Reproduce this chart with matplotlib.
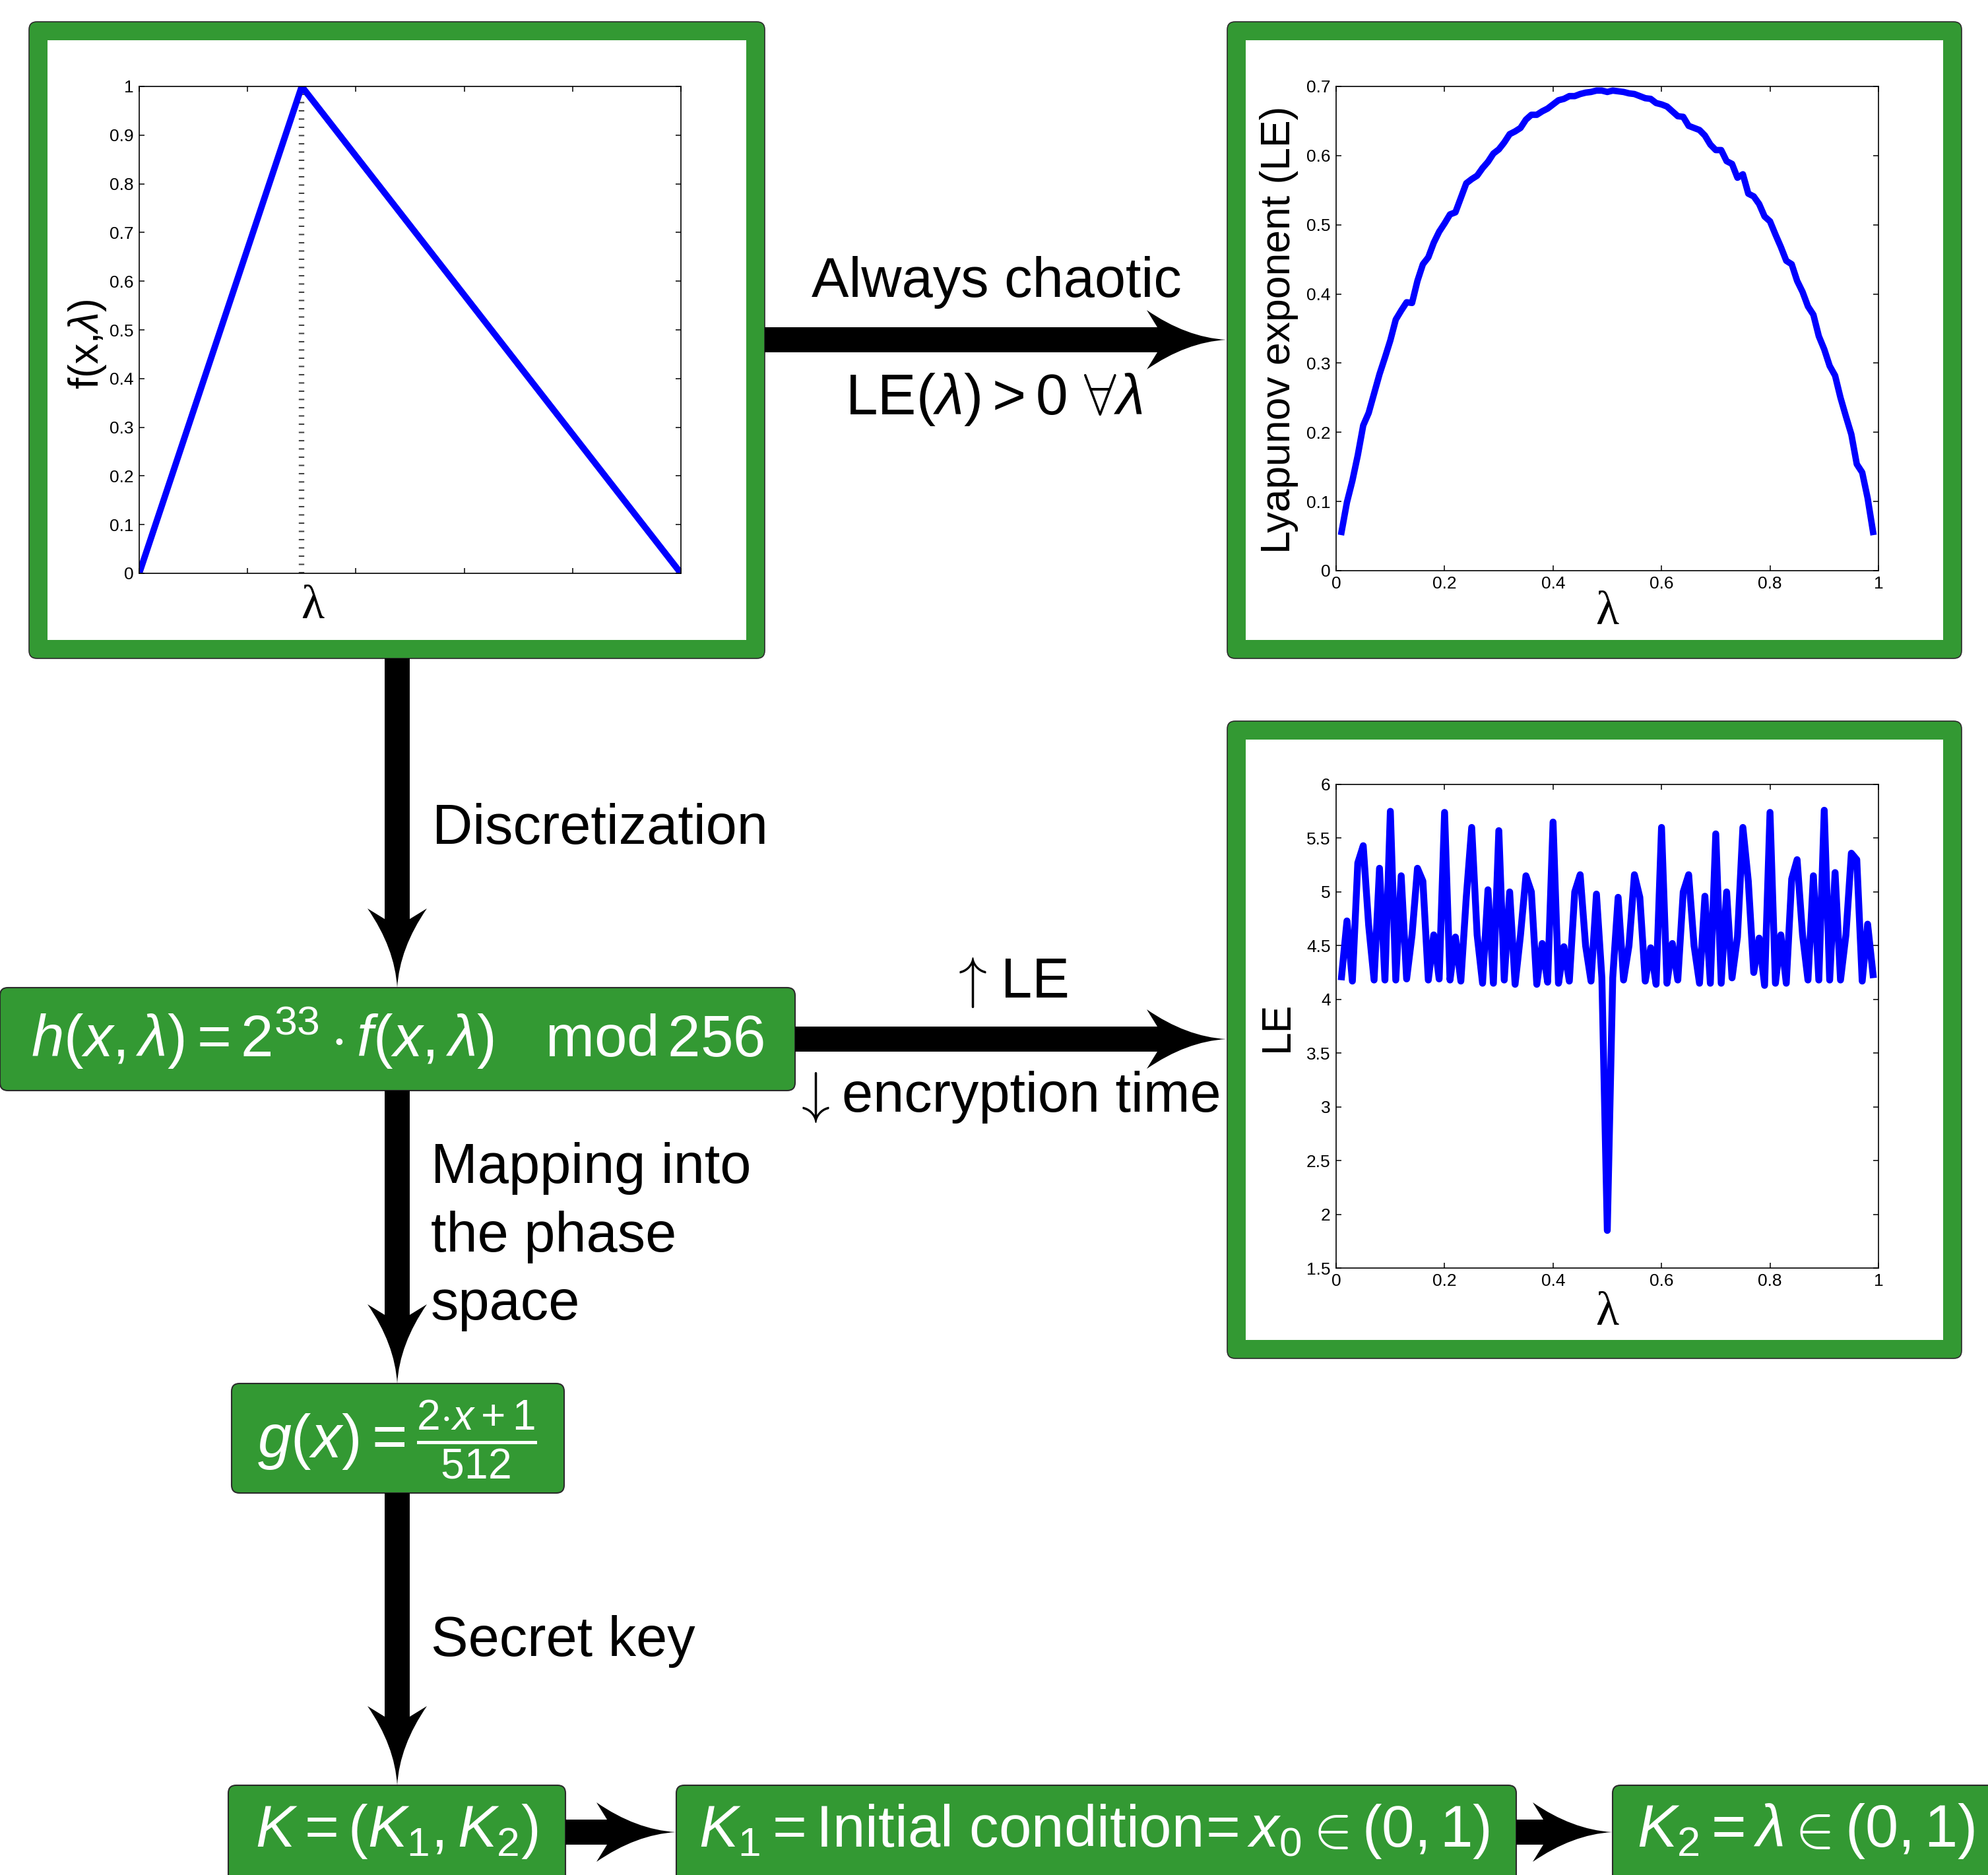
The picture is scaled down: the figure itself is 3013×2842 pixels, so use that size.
import numpy as np
import matplotlib
matplotlib.use('Agg')
import matplotlib.pyplot as plt
from matplotlib.patches import FancyBboxPatch, Rectangle, PathPatch
from matplotlib.path import Path
from matplotlib.ticker import FormatStrFormatter

plt.rcParams['font.family'] = ['Liberation Sans', 'DejaVu Sans']
plt.rcParams['mathtext.fontset'] = 'custom'
plt.rcParams['mathtext.rm'] = 'Liberation Sans'
plt.rcParams['mathtext.it'] = 'Liberation Sans:italic'
plt.rcParams['mathtext.bf'] = 'Liberation Sans:bold'
plt.rcParams['mathtext.fallback'] = 'cm'

# ---------------- data ----------------
tent_peak = 0.3
tent_x = [0.0, 0.3, 1.0]
tent_y = [0.0, 1.0, 0.0]

lam = np.linspace(0.01, 0.99, 99)
le_continuous = [
    0.056, 0.099, 0.13, 0.167, 0.21, 0.228, 0.256, 0.284, 0.308, 0.333,
    0.363, 0.376, 0.388, 0.387, 0.419, 0.443, 0.453, 0.474, 0.49, 0.502,
    0.515, 0.518, 0.539, 0.56, 0.566, 0.571, 0.582, 0.591, 0.603, 0.609,
    0.619, 0.631, 0.635, 0.64, 0.652, 0.659, 0.659, 0.664, 0.668, 0.674,
    0.68, 0.682, 0.686, 0.686, 0.689, 0.691, 0.692, 0.694, 0.694, 0.692,
    0.694, 0.693, 0.692, 0.69, 0.689, 0.686, 0.683, 0.682, 0.676, 0.674,
    0.671, 0.664, 0.657, 0.656, 0.643, 0.64, 0.637, 0.629, 0.616, 0.608,
    0.608, 0.592, 0.588, 0.568, 0.573, 0.545, 0.541, 0.53, 0.512, 0.505,
    0.486, 0.468, 0.448, 0.443, 0.419, 0.403, 0.382, 0.37, 0.339, 0.32,
    0.296, 0.282, 0.25, 0.223, 0.197, 0.154, 0.142, 0.105, 0.056]
le_discrete = [
    4.21, 4.73, 4.17, 5.27, 5.43, 4.69, 4.18, 5.22, 4.18, 5.75,
    4.18, 5.15, 4.19, 4.6, 5.22, 5.1, 4.18, 4.6, 4.19, 5.74,
    4.18, 4.58, 4.17, 4.95, 5.6, 4.6, 4.15, 5.02, 4.15, 5.57,
    4.18, 5.0, 4.14, 4.6, 5.15, 5.0, 4.14, 4.52, 4.16, 5.65,
    4.15, 4.49, 4.17, 5.0, 5.16, 4.5, 4.17, 4.98, 4.2, 1.85,
    4.2, 4.95, 4.18, 4.5, 5.16, 4.95, 4.17, 4.48, 4.14, 5.6,
    4.15, 4.52, 4.18, 5.0, 5.16, 4.5, 4.15, 4.96, 4.15, 5.54,
    4.15, 5.0, 4.2, 4.58, 5.6, 5.1, 4.25, 4.57, 4.13, 5.74,
    4.15, 4.6, 4.15, 5.12, 5.3, 4.6, 4.18, 5.15, 4.18, 5.76,
    4.18, 5.18, 4.18, 4.6, 5.36, 5.3, 4.17, 4.7, 4.23]

f_yticks = [0, 0.1, 0.2, 0.3, 0.4, 0.5, 0.6, 0.7, 0.8, 0.9, 1.0]
le_yticks = [0, 0.1, 0.2, 0.3, 0.4, 0.5, 0.6, 0.7]
led_yticks = [1.5, 2, 2.5, 3, 3.5, 4, 4.5, 5, 5.5, 6]
lam_xticks = [0, 0.2, 0.4, 0.6, 0.8, 1.0]

# ---------------- layout ----------------
W, H = 3013, 2842
GREEN = '#339933'
fig = plt.figure(figsize=(W / 100, H / 100), dpi=100)
bg = fig.add_axes([0, 0, 1, 1])
bg.set_xlim(0, W)
bg.set_ylim(H, 0)
bg.axis('off')


def panel(x0, y0, x1, y1, border=28):
    bg.add_patch(FancyBboxPatch((x0, y0), x1 - x0, y1 - y0,
                                boxstyle='round,pad=0,rounding_size=12',
                                fc=GREEN, ec='#2b2b2b', lw=1.2))
    bg.add_patch(Rectangle((x0 + border, y0 + border), x1 - x0 - 2 * border,
                           y1 - y0 - 2 * border, fc='white', ec='none'))


def gbox(x0, y0, x1, y1):
    bg.add_patch(FancyBboxPatch((x0, y0), x1 - x0, y1 - y0,
                                boxstyle='round,pad=0,rounding_size=12',
                                fc=GREEN, ec='#2b2b2b', lw=1.5))


def arrow(x0, y0, x1, y1, shaft=38, head_len=120, head_w=90):
    d = np.array([x1 - x0, y1 - y0], float)
    tot = np.hypot(*d)
    d /= tot
    n = np.array([-d[1], d[0]])
    s, Wh, L = shaft / 2, head_w / 2, head_len
    tip = np.array([x1, y1], float)

    def P(a, c):
        return tuple(tip + a * d + c * n)
    verts = [P(-tot, s), P(-L + 16, s), P(-L, Wh), P(-0.5 * L, 0.08 * Wh),
             P(0, 0), P(-0.5 * L, -0.08 * Wh), P(-L, -Wh), P(-L + 16, -s),
             P(-tot, -s), P(-tot, s)]
    codes = [Path.MOVETO, Path.LINETO, Path.LINETO, Path.CURVE3, Path.CURVE3,
             Path.CURVE3, Path.CURVE3, Path.LINETO, Path.LINETO, Path.CLOSEPOLY]
    bg.add_patch(PathPatch(Path(verts, codes), fc='black', ec='none'))


def plot_axes(x0, y0, x1, y1):
    ax = fig.add_axes([x0 / W, 1 - y1 / H, (x1 - x0) / W, (y1 - y0) / H])
    ax.tick_params(direction='in', length=6, width=1.1, top=True, right=True,
                   labelsize=19, pad=6)
    for sp in ax.spines.values():
        sp.set_linewidth(1.2)
    return ax


# panels
panel(44, 33, 1159, 998)
panel(1860, 33, 2973, 998)
panel(1860, 1093, 2973, 2059)

# green formula boxes
gbox(0, 1497, 1205, 1653)
gbox(351, 2097, 855, 2263)
gbox(346, 2706, 857, 2960)
gbox(1025, 2706, 2298, 2960)
gbox(2444, 2706, 3120, 2960)

# arrows
arrow(602, 998, 602, 1497)
arrow(1159, 515, 1858, 515)
arrow(1205, 1575, 1858, 1575)
arrow(602, 1653, 602, 2097)
arrow(602, 2263, 602, 2706)
arrow(857, 2777, 1024, 2777)
arrow(2298, 2777, 2443, 2777)

# arrow texts
TS = 61
bg.text(1510, 450, 'Always chaotic', fontsize=TS, ha='center', va='baseline')
bg.text(1506, 628, r'$\mathrm{LE}(\lambda) > 0\ \forall\lambda$', fontsize=63,
        ha='center', va='baseline')
bg.text(1466, 1489, r'$\uparrow$', fontsize=62, math_fontfamily='cm',
        ha='center', va='center')
bg.text(1517, 1512, 'LE', fontsize=TS, ha='left', va='baseline')
bg.text(1228, 1663, r'$\downarrow$', fontsize=62, math_fontfamily='cm',
        ha='center', va='center')
bg.text(1276, 1685, 'encryption time', fontsize=TS, ha='left', va='baseline')
bg.text(655, 1279, 'Discretization', fontsize=TS, ha='left', va='baseline')
bg.text(653, 1793, 'Mapping into', fontsize=TS, ha='left', va='baseline')
bg.text(653, 1897, 'the phase', fontsize=TS, ha='left', va='baseline')
bg.text(653, 2000, 'space', fontsize=TS, ha='left', va='baseline')
bg.text(653, 2510, 'Secret key', fontsize=TS, ha='left', va='baseline')

# formula texts
bg.text(603, 1602, r'$h(x,\lambda) = 2^{33}\cdot f(x,\lambda)\quad \mathrm{mod}\,256$',
        fontsize=64, color='white', ha='center', va='baseline')
bg.text(602, 2182, r'$g(x) = \frac{2{\cdot}x+1}{512}$', fontsize=66,
        color='white', ha='center', va='center')
bg.text(601, 2799, r'$K = (K_1,K_2)$', fontsize=64, color='white',
        ha='center', va='baseline')
bg.text(1659, 2799, r'$K_1 = \mathrm{Initial\ condition}\!= x_0 \in (0,1)$',
        fontsize=64, color='white', ha='center', va='baseline')
bg.text(2481, 2799, r'$K_2 = \lambda \in (0,1)$', fontsize=65, color='white',
        ha='left', va='baseline')

# ---------------- plot 1: tent map ----------------
ax1 = plot_axes(211, 131, 1032, 869)
ax1.plot([tent_peak, tent_peak], [0, 1], color='#444444', lw=6,
         linestyle=(0, (0.25, 1.25)))
ax1.plot(tent_x, tent_y, color='#0000ff', lw=7, solid_capstyle='butt')
ax1.set_xlim(0, 1)
ax1.set_ylim(0, 1)
ax1.set_xticks(lam_xticks)
ax1.tick_params(labelbottom=False)
ax1.set_yticks(f_yticks)
ax1.yaxis.set_major_formatter(FormatStrFormatter('%g'))
ax1.set_ylabel(r'f(x,$\lambda$)', fontsize=45)
ax1.yaxis.set_label_coords(-0.096, 0.47)
ax1.yaxis.label.set_verticalalignment('center')
ax1.set_xlabel('λ', fontsize=52, family='Liberation Serif')
ax1.xaxis.set_label_coords(0.32, -0.068)
ax1.xaxis.label.set_verticalalignment('center')

# ---------------- plot 2: LE continuous ----------------
ax2 = plot_axes(2025, 131, 2847, 865)
ax2.plot(lam, le_continuous, color='#0000ff', lw=7)
ax2.set_xlim(0, 1)
ax2.set_ylim(0, 0.7)
ax2.set_xticks(lam_xticks)
ax2.set_yticks(le_yticks)
ax2.xaxis.set_major_formatter(FormatStrFormatter('%g'))
ax2.yaxis.set_major_formatter(FormatStrFormatter('%g'))
ax2.set_ylabel('Lyapunov exponent (LE)', fontsize=45)
ax2.yaxis.set_label_coords(-0.105, 0.497)
ax2.yaxis.label.set_verticalalignment('center')
ax2.set_xlabel('λ', fontsize=52, family='Liberation Serif')
ax2.xaxis.set_label_coords(0.5, -0.087)
ax2.xaxis.label.set_verticalalignment('center')

# ---------------- plot 3: LE discrete ----------------
ax3 = plot_axes(2025, 1189, 2847, 1922)
ax3.plot(lam, le_discrete, color='#0000ff', lw=7.5)
ax3.set_xlim(0, 1)
ax3.set_ylim(1.5, 6)
ax3.set_xticks(lam_xticks)
ax3.set_yticks(led_yticks)
ax3.xaxis.set_major_formatter(FormatStrFormatter('%g'))
ax3.yaxis.set_major_formatter(FormatStrFormatter('%g'))
ax3.set_ylabel('LE', fontsize=45)
ax3.yaxis.set_label_coords(-0.109, 0.5)
ax3.yaxis.label.set_verticalalignment('center')
ax3.set_xlabel('λ', fontsize=52, family='Liberation Serif')
ax3.xaxis.set_label_coords(0.5, -0.093)
ax3.xaxis.label.set_verticalalignment('center')

fig.savefig('out.png', dpi=100)
